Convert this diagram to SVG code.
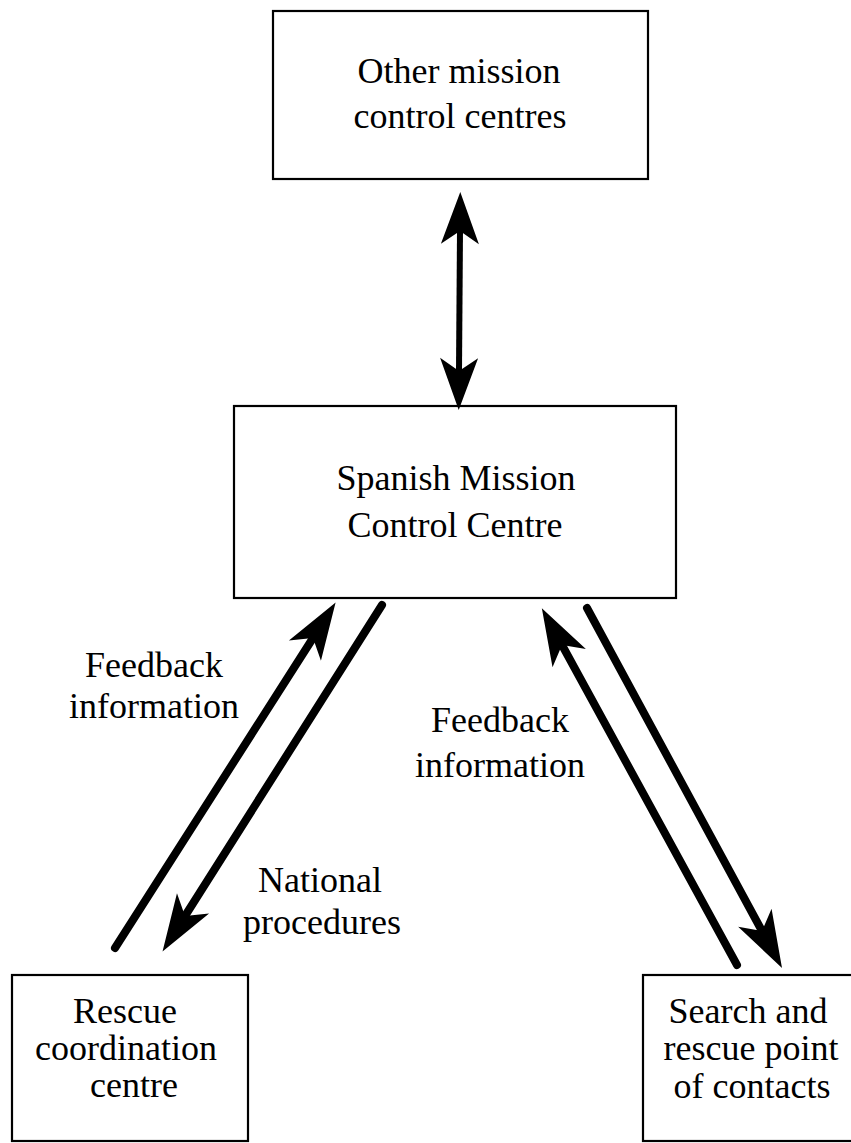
<svg xmlns="http://www.w3.org/2000/svg" width="851" height="1143" viewBox="0 0 851 1143">
  <style>
    .box { fill: #ffffff; stroke: #000000; stroke-width: 2.2; }
    .lbl { font-family: "Liberation Serif", "Times New Roman", serif; font-size: 36px; fill: #000000; text-anchor: middle; }
    .shaft { stroke: #000000; stroke-width: 8; stroke-linecap: round; fill: none; }
    .vshaft { stroke: #000000; stroke-width: 6; fill: none; }
  </style>
  <defs>
    <marker id="ahBig" markerUnits="userSpaceOnUse" markerWidth="80" markerHeight="50" viewBox="-20 -25 80 50" refX="0" refY="0" orient="auto" overflow="visible">
      <path d="M42,0 L-15,-19 L0,0 L-15,19 Z" fill="#000000"/>
    </marker>
    <marker id="ahSmall" markerUnits="userSpaceOnUse" markerWidth="80" markerHeight="50" viewBox="-20 -25 80 50" refX="0" refY="0" orient="auto-start-reverse" overflow="visible">
      <path d="M39,0 L-13,-19 L0,0 L-13,19 Z" fill="#000000"/>
    </marker>
  </defs>
  <rect width="851" height="1143" fill="#ffffff"/>

  <g id="other-mcc">
    <rect class="box" x="273" y="11" width="375" height="168"/>
    <text class="lbl" x="459" y="83">Other mission</text>
    <text class="lbl" x="460" y="128">control centres</text>
  </g>

  <g id="spanish-mcc">
    <rect class="box" x="234" y="406" width="442" height="192"/>
    <text class="lbl" x="456" y="490">Spanish Mission</text>
    <text class="lbl" x="455" y="537">Control Centre</text>
  </g>

  <g id="rcc">
    <rect class="box" x="12" y="975" width="236" height="166"/>
    <text class="lbl" x="125" y="1023">Rescue</text>
    <text class="lbl" x="126" y="1060">coordination</text>
    <text class="lbl" x="134" y="1097">centre</text>
  </g>

  <g id="sar-poc">
    <rect class="box" x="643" y="975" width="230" height="166"/>
    <text class="lbl" x="748" y="1023">Search and</text>
    <text class="lbl" x="751" y="1060">rescue point</text>
    <text class="lbl" x="752" y="1098">of contacts</text>
  </g>

  <g id="connectors">
    <line class="vshaft" x1="460" y1="231" x2="459" y2="371" marker-start="url(#ahSmall)" marker-end="url(#ahSmall)"/>
    <line class="shaft" x1="115" y1="948" x2="313" y2="638" marker-end="url(#ahBig)"/>
    <line class="shaft" x1="382" y1="605" x2="185" y2="916" marker-end="url(#ahBig)"/>
    <line class="shaft" x1="737" y1="965" x2="562" y2="645" marker-end="url(#ahBig)"/>
    <line class="shaft" x1="587" y1="608" x2="762" y2="931" marker-end="url(#ahBig)"/>
  </g>

  <g id="labels">
    <text class="lbl" x="154" y="677">Feedback</text>
    <text class="lbl" x="154" y="718">information</text>
    <text class="lbl" x="500" y="732">Feedback</text>
    <text class="lbl" x="500" y="777">information</text>
    <text class="lbl" x="320" y="892">National</text>
    <text class="lbl" x="322" y="934">procedures</text>
  </g>
</svg>
